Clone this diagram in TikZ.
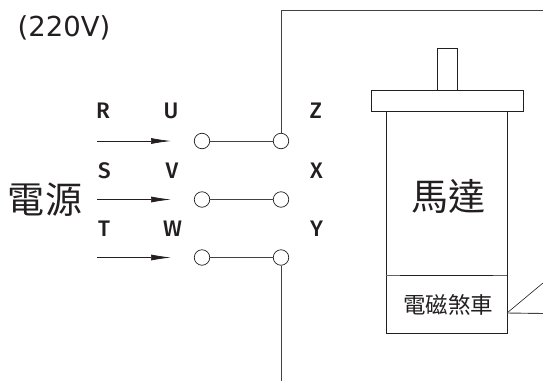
\documentclass[tikz,border=0pt]{standalone}
\usepackage{fontspec}
\setmainfont{DejaVu Sans}
\newfontfamily\cjk{Noto Sans CJK TC}[Scale=1]
\newfontfamily\letterfont{Fira Sans Medium}
\usetikzlibrary{arrows.meta}
\definecolor{ink}{HTML}{231F20}
\tikzset{
  wire/.style={draw=ink!85,line width=0.9pt},
  outlinebox/.style={draw=ink,line width=0.9pt,fill=white},
  terminal/.style={circle,draw=ink,line width=0.7pt,fill=white,minimum size=15.5pt,inner sep=0pt},
  phase/.style={font=\letterfont\fontsize{22.5}{22.5}\selectfont,text=ink,inner sep=0pt},
  feed/.style={draw=ink,line width=0.7pt,-{Latex[length=20pt,width=6pt]},shorten >=0pt}
}
\begin{document}
\begin{tikzpicture}[x=1pt,y=-1pt]
\useasboundingbox (0,0) rectangle (543,383);
% motor
\draw[outlinebox] (437,48) rectangle (457,90);
\draw[outlinebox] (371,90) rectangle (523,111);
\draw[outlinebox] (386,111) rectangle (507,333);
\draw[draw=ink!70,line width=0.9pt] (386,275.5) -- (507,275.5);
\draw[draw=ink,line width=1.4pt] (400,275.5) -- (493,275.5);
\coordinate (bk) at (507,313);
\coordinate (bkA) at (543,283);
\coordinate (bkB) at (543,313.5);
\draw[draw=ink,line width=0.6pt] (bk) -- (bkA);
\draw[wire] (bk) -- (bkB);
\node[font=\cjk\fontsize{22.5}{22.5}\selectfont,text=ink,inner sep=0pt] (brake) at (448,305) {電磁煞車};
\node[font=\cjk\fontsize{37}{37}\selectfont,text=ink,inner sep=0pt] (motor) at (448,196) {馬達};
% terminals
\node[terminal] (a1) at (202,141) {};
\node[terminal] (a2) at (281,141) {};
\node[terminal] (b1) at (202,199.5) {};
\node[terminal] (b2) at (281,199.5) {};
\node[terminal] (c1) at (202,257.5) {};
\node[terminal] (c2) at (281,257.5) {};
\draw[wire] (a1) -- (a2);
\draw[wire] (b1) -- (b2);
\draw[wire] (c1) -- (c2);
\coordinate (top) at (281,10);
\coordinate (topR) at (543,10);
\coordinate (bot) at (281,381);
\draw[wire] (a2) -- (top) -- (topR);
\draw[wire] (c2) -- (bot);
% feeds
\coordinate (r0) at (97,141); \coordinate (r1) at (171,141);
\coordinate (s0) at (97,199.5); \coordinate (s1) at (171,199.5);
\coordinate (t0) at (97,257.5); \coordinate (t1) at (171,257.5);
\draw[feed] (r0) -- (r1);
\draw[feed] (s0) -- (s1);
\draw[feed] (t0) -- (t1);
% labels
\node[phase] (R) at (103,111) {R};
\node[phase] (U) at (171,111) {U};
\node[phase] (Z) at (316,111) {Z};
\node[phase] (S) at (104.5,171) {S};
\node[phase] (V) at (172,171) {V};
\node[phase] (X) at (316.5,171) {X};
\node[phase] (T) at (104,229) {T};
\node[phase] (W) at (172.5,229) {W};
\node[phase] (Y) at (316.5,229) {Y};
\node[font=\cjk\fontsize{37}{37}\selectfont,text=ink,inner sep=0pt] (src) at (45,200) {電源};
\node[font=\fontsize{27.5}{27.5}\selectfont,text=ink,inner sep=0pt] (volt) at (64,28) {(220V)};
\end{tikzpicture}
\end{document}
